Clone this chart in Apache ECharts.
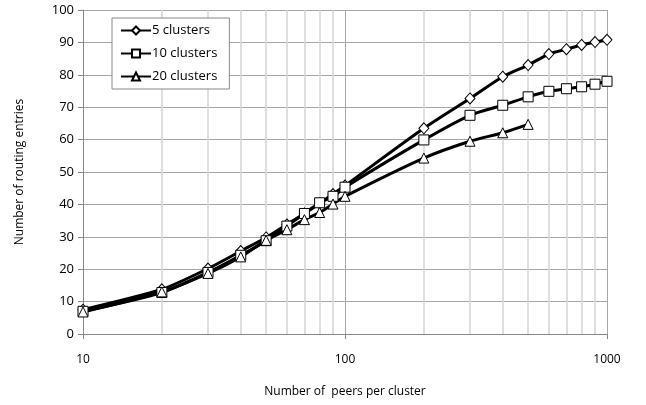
<!DOCTYPE html>
<html><head><meta charset="utf-8">
<script src="https://cdn.jsdelivr.net/npm/echarts@6/dist/echarts.min.js"></script>
<style>html,body{margin:0;padding:0;background:#fff}#c{width:646px;height:405px}</style>
</head><body><div id="c"></div>
<script>
const xFull = [10,20,30,40,50,60,70,80,90,100,200,300,400,500,600,700,800,900,1000];
const xShort = [10,20,30,40,50,60,70,80,90,100,200,300,400,500];
const s5 = [7.5,13.8,20.2,25.6,29.8,33.8,37.2,40.3,43.2,45.8,63.5,72.7,79.4,83.0,86.4,87.9,89.2,90.1,90.8];
const s10 = [7.0,12.8,19.0,24.3,28.8,33.3,37.2,40.5,42.5,45.3,59.9,67.5,70.6,73.2,74.9,75.7,76.3,77.1,78.0];
const s20 = [6.8,13.0,18.7,23.8,28.9,32.2,35.3,37.5,40.1,42.5,54.3,59.5,62.1,64.7];
const minorX = [20,30,40,50,60,70,80,90,200,300,400,500,600,700,800,900];
const majorX = [1000];
const names = ['5 clusters','10 clusters','20 clusters'];
const FONT = 'Open Sans';

function zip(xs, ys){ return ys.map((v,i)=>[xs[i], v]); }
function ser(name, xs, ys, sym, extra){
  return Object.assign({
    name, type:'line', data: zip(xs, ys), smooth:0.25,
    symbol: sym, symbolSize: 9, showSymbol:true,
    lineStyle:{color:'#000', width:3},
    itemStyle:{color:'#fff', borderColor:'#000', borderWidth:1},
    z:5
  }, extra||{});
}
const chart = echarts.init(document.getElementById('c'), null, {renderer:'canvas'});
chart.setOption({
  animation:false,
  grid:{left:83, right:39, top:10, bottom:71},
  legend:{
    orient:'vertical', left:112, top:18, width:119,
    padding:[6,12,6,8], itemGap:10, itemWidth:30, itemHeight:10,
    backgroundColor:'#fff', borderColor:'#888', borderWidth:1,
    textStyle:{fontFamily:FONT, fontSize:13, color:'#000', padding:[0,0,0,-4]},
    data: names
  },
  xAxis:{
    type:'log', logBase:10, min:10, max:1000,
    name:'Number of  peers per cluster', nameLocation:'middle', nameGap:52,
    nameTextStyle:{fontFamily:FONT, fontSize:12, color:'#000'},
    axisLine:{show:true, lineStyle:{color:'#888', width:1}},
    axisTick:{show:true, length:5, lineStyle:{color:'#888'}},
    axisLabel:{fontFamily:FONT, fontSize:12, color:'#000', margin:20, formatter: v => String(v)},
    splitLine:{show:true, lineStyle:{color:'#a6a6a6', width:1}}
  },
  yAxis:{
    type:'value', min:0, max:100, interval:10,
    name:'Number of routing entries', nameLocation:'middle', nameGap:57,
    nameTextStyle:{fontFamily:FONT, fontSize:12, color:'#000'},
    axisLine:{show:true, lineStyle:{color:'#888', width:1}},
    axisTick:{show:true, length:5, lineStyle:{color:'#888'}},
    axisLabel:{fontFamily:FONT, fontSize:13, color:'#000', margin:9},
    splitLine:{show:true, lineStyle:{color:'#a6a6a6', width:1}}
  },
  series:[
    ser(names[0], xFull, s5, 'diamond', {symbolSize:[10,11],
      markLine:{silent:true, symbol:'none', label:{show:false},
        lineStyle:{color:'#d4d4d4', width:1.5, type:'solid'}, z:1,
        data: minorX.map(v=>({xAxis:v})).concat(majorX.map(v=>({xAxis:v, lineStyle:{color:'#a6a6a6', width:1}})))}}),
    ser(names[1], xFull, s10, 'rect', {symbolSize:10}),
    ser(names[2], xShort, s20, 'triangle', {symbolSize:10})
  ]
});
</script></body></html>
